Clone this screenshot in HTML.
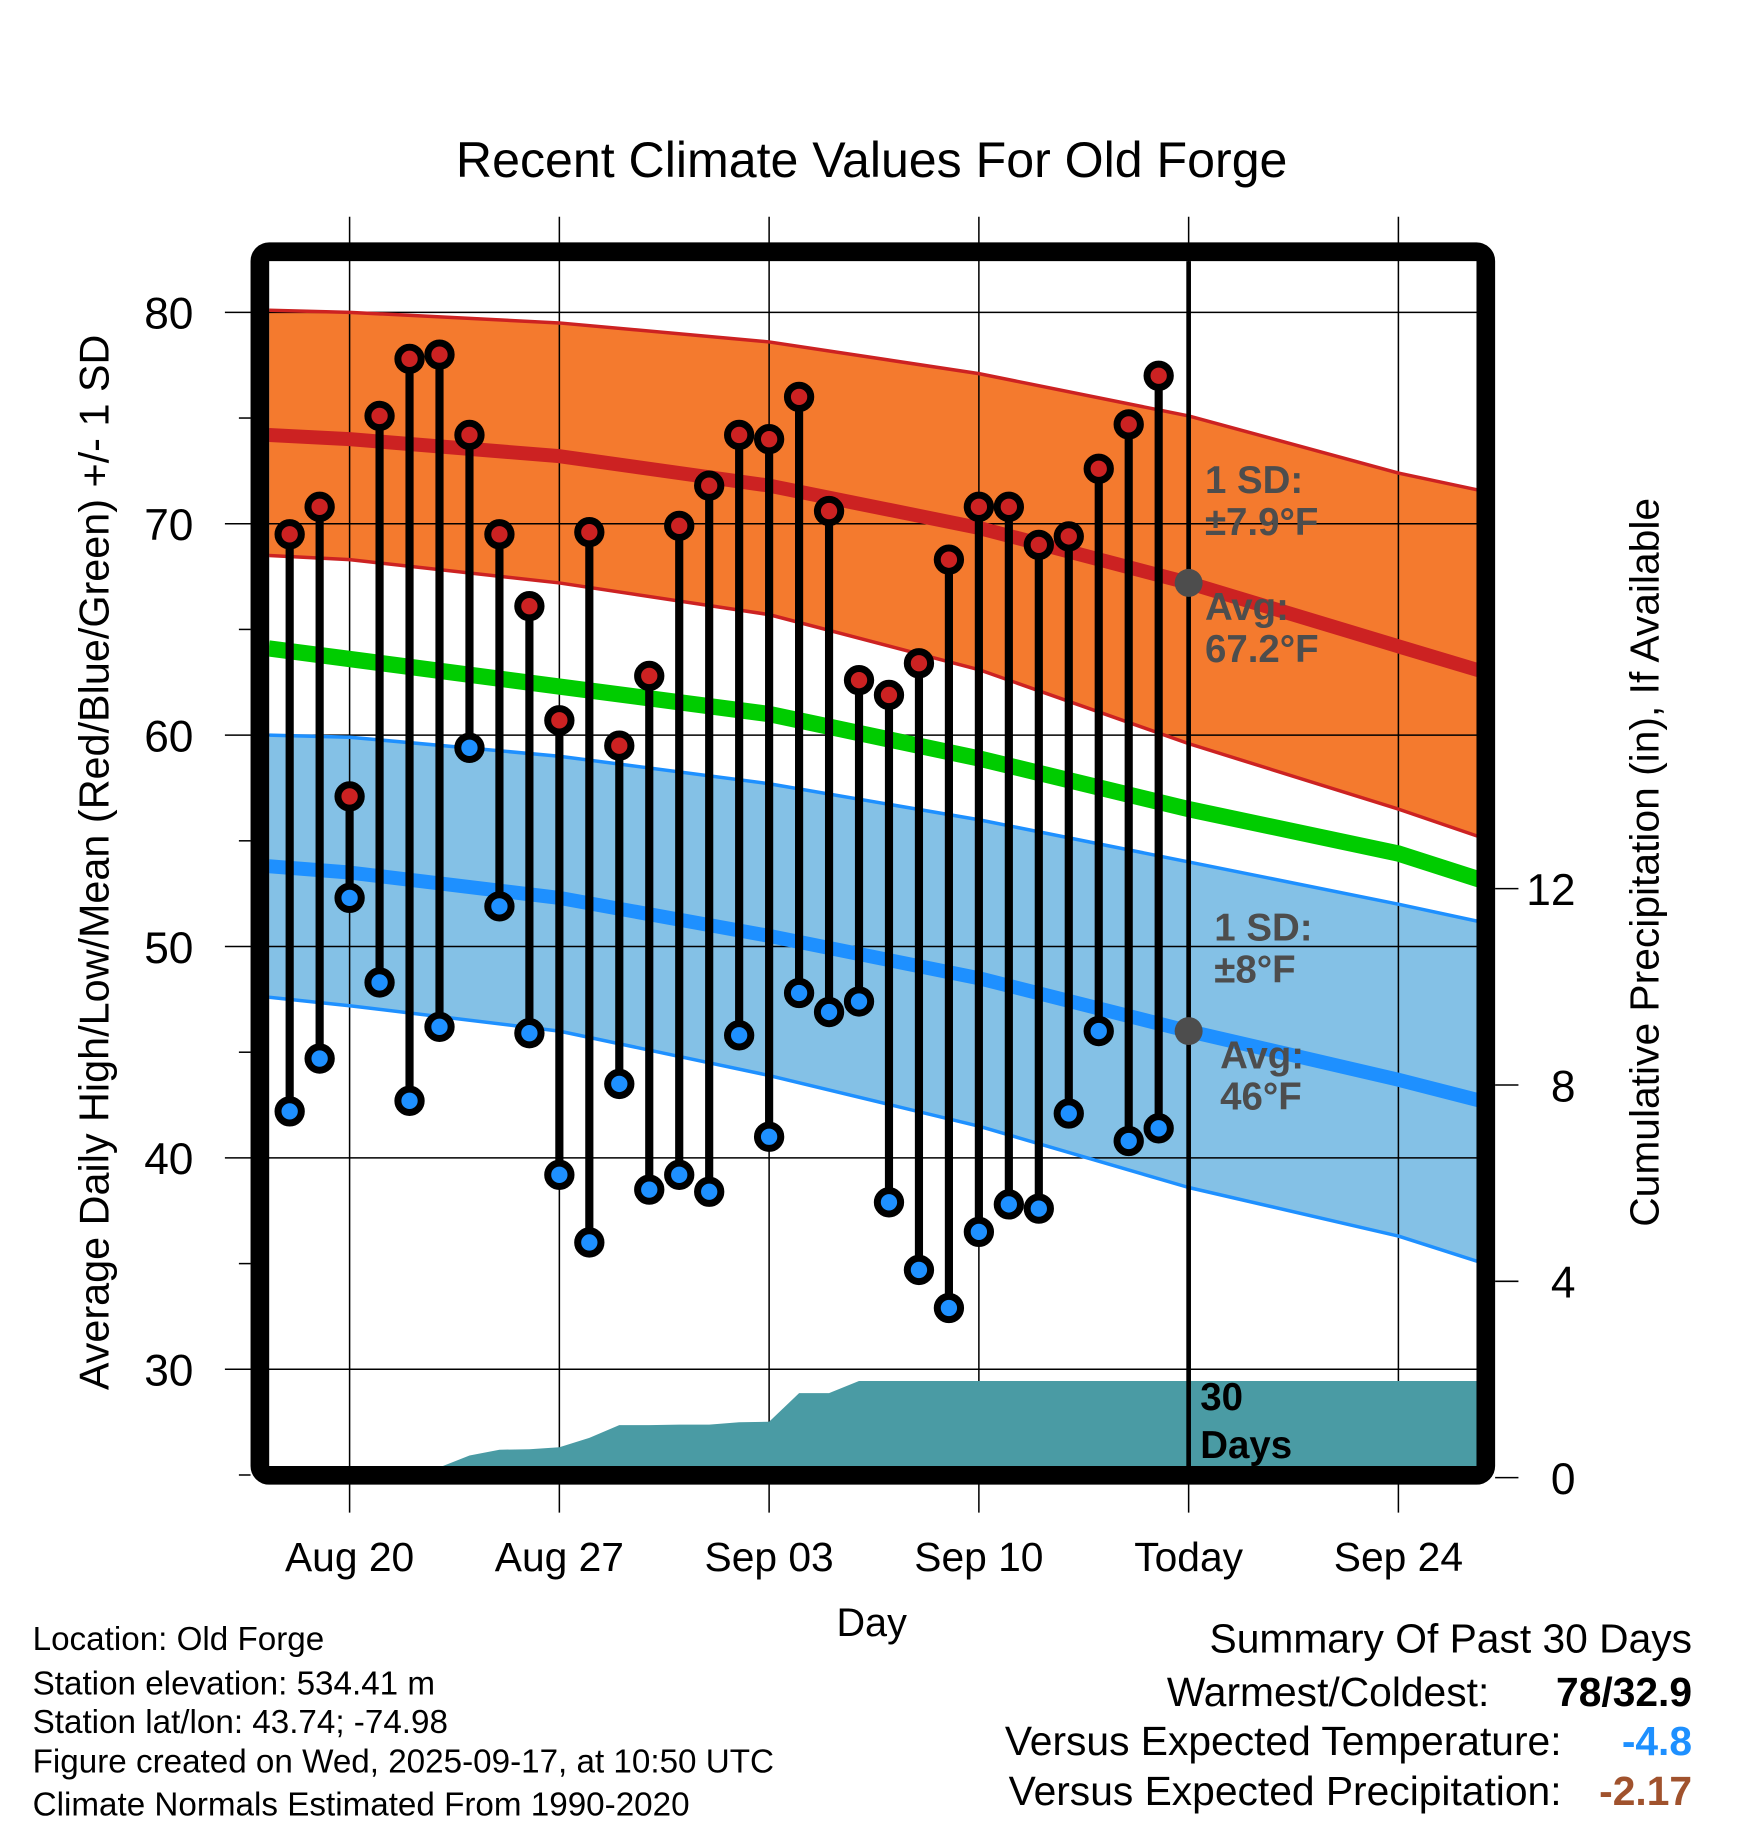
<!DOCTYPE html>
<html><head><meta charset="utf-8"><style>
html,body{margin:0;padding:0;background:#fff}
svg{display:block}
text{font-family:"Liberation Sans",sans-serif}
</style></head><body>
<svg id="chart" width="1748" height="1828" viewBox="0 0 1500 1568.6" xmlns="http://www.w3.org/2000/svg">
<defs><clipPath id="plotclip"><rect x="231" y="224" width="1037" height="1036"/></clipPath></defs>
<g id="fills" clip-path="url(#plotclip)"></g>
<g id="grid"></g>
<g id="lines" clip-path="url(#plotclip)"></g>
<g id="precip" clip-path="url(#plotclip)"></g>
<g id="marks"></g>
<g id="labels"></g>
<rect x="223" y="216" width="1052" height="1050" rx="8" fill="none" stroke="#000" stroke-width="16"/>
<text x="748" y="152" font-size="43" text-anchor="middle">Recent Climate Values For Old Forge</text>
<text transform="translate(93,740) rotate(-90)" font-size="35.5" text-anchor="middle">Average Daily High/Low/Mean (Red/Blue/Green) +/- 1 SD</text>
<text transform="translate(1423,740) rotate(-90)" font-size="35" text-anchor="middle">Cumulative Precipitation (in), If Available</text>
<text x="748" y="1404" font-size="34" text-anchor="middle">Day</text>
<g font-size="28.5">
<text x="28" y="1416">Location: Old Forge</text>
<text x="28" y="1454">Station elevation: 534.41 m</text>
<text x="28" y="1487">Station lat/lon: 43.74; -74.98</text>
<text x="28" y="1521">Figure created on Wed, 2025-09-17, at 10:50 UTC</text>
<text x="28" y="1558">Climate Normals Estimated From 1990-2020</text>
</g>
<g font-size="35">
<text x="1452" y="1418" text-anchor="end">Summary Of Past 30 Days</text>
<text x="1278" y="1464" text-anchor="end">Warmest/Coldest:</text>
<text x="1452" y="1464" text-anchor="end" font-weight="bold">78/32.9</text>
<text x="1340" y="1506" text-anchor="end">Versus Expected Temperature:</text>
<text x="1452" y="1506" text-anchor="end" font-weight="bold" fill="#1e90ff">-4.8</text>
<text x="1340" y="1549" text-anchor="end">Versus Expected Precipitation:</text>
<text x="1452" y="1549" text-anchor="end" font-weight="bold" fill="#a0522d">-2.17</text>
</g>
</svg>
<script>
// data (day offsets relative to Aug 20)
const obsDays = [-2,-1,0,1,2,3,4,5,6,7,8,9,10,11,12,13,14,15,16,17,18,19,20,21,22,23,24,25,26,27];
const highs = [69.5,70.8,57.1,75.1,77.8,78.0,74.2,69.5,66.1,60.7,69.6,59.5,62.8,69.9,71.8,74.2,74.0,76.0,70.6,62.6,61.9,63.4,68.3,70.8,70.8,69.0,69.4,72.6,74.7,77.0];
const lows = [42.2,44.7,52.3,48.3,42.7,46.2,59.4,51.9,45.9,39.2,36.0,43.5,38.5,39.2,38.4,45.8,41.0,47.8,46.9,47.4,37.9,34.7,32.9,36.5,37.8,37.6,42.1,46.0,40.8,41.4];
const precip = [0,0,0.21,0.21,0.21,0.21,0.45,0.57,0.58,0.62,0.81,1.07,1.07,1.08,1.08,1.13,1.14,1.72,1.72,1.97,1.97,1.97,1.97,1.97,1.97,1.97,1.97,1.97,1.97,1.97];
const normDays = [-2.7,0,7,14,21,28,35,38.3];
const highUpper = [80.1,80.0,79.5,78.6,77.1,75.1,72.4,71.4];
const highAvg = [74.2,74.0,73.2,71.8,69.8,67.2,64.2,62.8];
const highLower = [68.5,68.3,67.2,65.7,63.1,59.6,56.5,54.9];
const meanAvg = [64.1,63.6,62.3,61.0,58.9,56.5,54.4,52.9];
const lowUpper = [60.0,59.9,59.0,57.7,56.0,54.0,52.0,51.0];
const lowAvg = [53.8,53.5,52.3,50.5,48.5,46.0,43.7,42.5];
const lowLower = [47.6,47.2,46.0,43.9,41.5,38.6,36.3,34.8];
const xTickDays = [0,7,14,21,28,35];
const xTickLabels = ["Aug 20","Aug 27","Sep 03","Sep 10","Today","Sep 24"];
const yTicks = [30,40,50,60,70,80];
const y2Ticks = [0,4,8,12];
const todayDay = 28;
const todayHigh = 67.2, todayLow = 46.0;

const NS="http://www.w3.org/2000/svg";
const X = d => 300 + d*180/7;
const Y = v => 268 + (80-v)*18.14;
const Y2 = p => 1268 - p*42.125;
function mk(tag, parent, attrs){const e=document.createElementNS(NS,tag);for(const k in attrs)e.setAttribute(k,attrs[k]);document.getElementById(parent).appendChild(e);return e;}
function pts(days, vals, yf){return days.map((d,i)=>X(d).toFixed(1)+","+(yf||Y)(vals[i]).toFixed(1));}
function band(upper, lower){return pts(normDays,upper).concat(pts(normDays,lower).reverse()).join(" ");}

let e;
e=mk("polygon","fills",{points:band(highUpper,highLower),fill:"#f47a2e"});


e=mk("polygon","fills",{points:band(lowUpper,lowLower),fill:"#84c1e6"});



// grid
xTickDays.forEach((d,i)=>{
  e=mk("line","grid",{x1:X(d),x2:X(d),y1:186,y2:1298,stroke:"#000","stroke-width":1.3});
  
  
  e=mk("text","labels",{x:X(d),y:1348,"font-size":35,"text-anchor":"middle"});
  e.textContent=xTickLabels[i];
  
  
});
yTicks.forEach(v=>{
  e=mk("line","grid",{x1:193,x2:1268,y1:Y(v),y2:Y(v),stroke:"#000","stroke-width":1.3});
  
  
  e=mk("text","labels",{x:166,y:Y(v)+14,"font-size":38,"text-anchor":"end"});
  e.textContent=v;
  
  
});
[25,35,45,55,65,75].forEach(v=>{
  e=mk("line","grid",{x1:205,x2:215,y1:Y(v),y2:Y(v),stroke:"#000","stroke-width":1.3});
  
  
});
y2Ticks.forEach(p=>{
  e=mk("line","grid",{x1:1283,x2:1303,y1:Y2(p),y2:Y2(p),stroke:"#000","stroke-width":1.3});
  
  
  e=mk("text","labels",{x:1352,y:Y2(p)+14,"font-size":38,"text-anchor":"end"});
  e.textContent=p;
  
  
});

function line(vals,color,w,name){
  e=mk("polyline","lines",{points:pts(normDays,vals).join(" "),fill:"none",stroke:color,"stroke-width":w,"stroke-linejoin":"round"});
  
  
}
line(highUpper,"#cc2222",3,"high-upper-sd-line");
line(highLower,"#cc2222",3,"high-lower-sd-line");
line(highAvg,"#cc2222",12,"avg-high-line");
line(meanAvg,"#00cc00",14,"avg-mean-line");
line(lowUpper,"#1e90ff",3,"low-upper-sd-line");
line(lowLower,"#1e90ff",3,"low-lower-sd-line");
line(lowAvg,"#1e90ff",12,"avg-low-line");

// precipitation
const pp = pts(obsDays,precip,Y2);
pp.push(X(40).toFixed(1)+","+Y2(precip[precip.length-1]).toFixed(1));
pp.push(X(40)+","+Y2(0)); pp.push(X(obsDays[0])+","+Y2(0));
e=mk("polygon","precip",{points:pp.join(" "),fill:"#4a9ba4"});



// today line
e=mk("line","marks",{x1:X(todayDay),x2:X(todayDay),y1:224,y2:1262,stroke:"#000","stroke-width":4});


e=mk("circle","marks",{cx:X(todayDay),cy:Y(todayHigh),r:12,fill:"#4d4d4d"});


e=mk("circle","marks",{cx:X(todayDay),cy:Y(todayLow),r:12,fill:"#4d4d4d"});



// stems and markers
obsDays.forEach((d,i)=>{
  e=mk("line","marks",{x1:X(d),x2:X(d),y1:Y(highs[i]),y2:Y(lows[i]),stroke:"#000","stroke-width":7});
  
  
});
obsDays.forEach((d,i)=>{
  e=mk("circle","marks",{cx:X(d),cy:Y(highs[i]),r:10,fill:"#cc2222",stroke:"#000","stroke-width":6});
  
  
  e=mk("circle","marks",{cx:X(d),cy:Y(lows[i]),r:10,fill:"#1e90ff",stroke:"#000","stroke-width":6});
  
  
});

// annotations
function ann(x,y,t,fill,name){
  e=mk("text","labels",{x:x,y:y,"font-size":33,"font-weight":"bold",fill:fill});
  e.textContent=t;
  
  
}
ann(1034,423,"1 SD:","#4d4d4d","high-sd-label");
ann(1034,459,"±7.9°F","#4d4d4d","high-sd-value");
ann(1034,532,"Avg:","#4d4d4d","high-avg-label");
ann(1034,568,"67.2°F","#4d4d4d","high-avg-value");
ann(1042,807,"1 SD:","#4d4d4d","low-sd-label");
ann(1042,843,"±8°F","#4d4d4d","low-sd-value");
ann(1047,917,"Avg:","#4d4d4d","low-avg-label");
ann(1047,952,"46°F","#4d4d4d","low-avg-value");
ann(1030,1210,"30","#000","precip-period-label");
ann(1030,1251,"Days","#000","precip-period-unit");
</script>
</body></html>
